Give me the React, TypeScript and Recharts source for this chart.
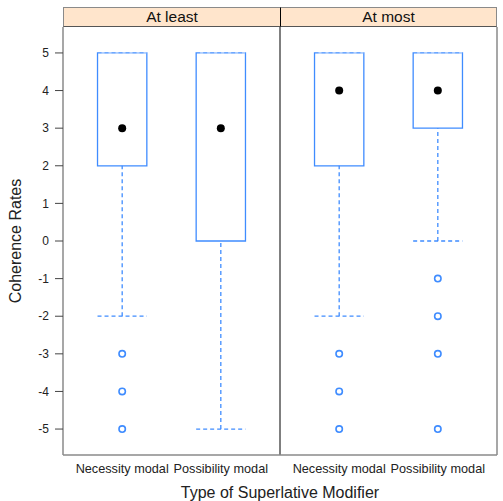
import React from "react";
import {
  ComposedChart,
  XAxis,
  YAxis,
  Scatter,
  ReferenceArea,
  ReferenceLine,
} from "recharts";

// ---- data ----
const panels = ["At least", "At most"];
const categories = ["Necessity modal", "Possibility modal"];
// per panel, per category: [lowerWhisker, q1, median, q3, upperWhisker]
const atLeastStats = [
  [-2, 2, 3, 5, 5],
  [-5, 0, 3, 5, 5],
];
const atMostStats = [
  [-2, 2, 4, 5, 5],
  [0, 3, 4, 5, 5],
];
const atLeastOutliers = [[-3, -4, -5], []];
const atMostOutliers = [[-3, -4, -5], [-1, -2, -3, -5]];
const yTicks = [-5, -4, -3, -2, -1, 0, 1, 2, 3, 4, 5];

const panelStats = [atLeastStats, atMostStats];
const panelOutliers = [atLeastOutliers, atMostOutliers];

// ---- layout (scale units) ----
const PANEL_SPAN = 2.2;
const BOX_HALF = 0.25;
const xPos = (p: number, c: number) => p * PANEL_SPAN + c + 1;

const BLUE = "#3f8cff";
const FONT = "'Liberation Sans', Arial, sans-serif";

type Box = { x: number; lo: number; q1: number; med: number; q3: number; hi: number };
const boxes: Box[] = [];
const medians: { x: number; y: number }[] = [];
const outliers: { x: number; y: number }[] = [];
panels.forEach((_, p) => {
  categories.forEach((_, c) => {
    const [lo, q1, med, q3, hi] = panelStats[p][c];
    const x = xPos(p, c);
    boxes.push({ x, lo, q1, med, q3, hi });
    medians.push({ x, y: med });
    panelOutliers[p][c].forEach((v) => outliers.push({ x, y: v }));
  });
});
const xTicks = boxes.map((b) => b.x);
const xLabel = (v: number) => {
  let best = 0;
  xTicks.forEach((t, i) => {
    if (Math.abs(t - v) < Math.abs(xTicks[best] - v)) best = i;
  });
  return categories[best % categories.length];
};

const W = 503;
const H = 501;
const PLOT_L = 63;
const PLOT_R = 497;
const PLOT_T = 27;
const PLOT_B = 455;
const STRIP_T = 7;

const MedianDot = (props: any) => (
  <circle cx={props.cx} cy={props.cy} r={4} fill="#000" />
);
const OutlierDot = (props: any) => (
  <circle cx={props.cx} cy={props.cy} r={3.2} fill="none" stroke={BLUE} strokeWidth={1.6} />
);

export default function App() {
  const panelW = (PLOT_R - PLOT_L) / panels.length;
  return (
    <div style={{ position: "absolute", left: 0, top: 0, width: W, height: H, background: "#fff", fontFamily: FONT }}>
      <ComposedChart
        width={W}
        height={H}
        margin={{ top: PLOT_T, right: 0, bottom: 0, left: 0 }}
        style={{ position: "absolute", left: 0, top: 0 }}
      >
        <XAxis
          type="number"
          dataKey="x"
          domain={[0.4, 0.4 + PANEL_SPAN * panels.length]}
          ticks={xTicks}
          tickFormatter={xLabel}
          interval={0}
          tickLine={false}
          axisLine={{ stroke: "#8a8a8a", strokeWidth: 1.5 }}
          tick={{ fill: "#222", fontSize: 12.7, fontFamily: FONT }}
          tickMargin={3}
          height={H - PLOT_B}
          allowDataOverflow
          label={{
            value: "Type of Superlative Modifier",
            position: "insideBottom",
            offset: 3,
            fill: "#222",
            fontSize: 16,
            fontFamily: FONT,
          }}
        />
        <YAxis
          yAxisId="l"
          type="number"
          domain={[-5.69, 5.69]}
          ticks={yTicks}
          interval={0}
          width={PLOT_L}
          tickSize={8}
          tickMargin={6}
          allowDataOverflow
          axisLine={{ stroke: "#8a8a8a", strokeWidth: 1.5 }}
          tickLine={{ stroke: "#444" }}
          tick={{ fill: "#222", fontSize: 12, fontFamily: FONT }}
          label={{
            value: "Coherence Rates",
            angle: -90,
            position: "insideLeft",
            offset: 15,
            style: { textAnchor: "middle" },
            fill: "#222",
            fontSize: 16,
            fontFamily: FONT,
          }}
        />
        <YAxis
          yAxisId="r"
          orientation="right"
          type="number"
          domain={[-5.69, 5.69]}
          ticks={yTicks}
          interval={0}
          width={W - PLOT_R}
          tickSize={7}
          allowDataOverflow
          axisLine={{ stroke: "#8a8a8a", strokeWidth: 1.5 }}
          tickLine={{ stroke: "#444" }}
          tick={false}
        />
        <ReferenceLine yAxisId="l" x={PANEL_SPAN + 0.4} stroke="#000" strokeWidth={1} />
        {boxes.map((b, i) => (
          <ReferenceArea
            key={"box" + i}
            yAxisId="l"
            x1={b.x - BOX_HALF}
            x2={b.x + BOX_HALF}
            y1={b.q1}
            y2={b.q3}
            fill="none"
            fillOpacity={0}
            stroke={BLUE}
            strokeWidth={1.3}
          />
        ))}
        {boxes.map((b, i) => (
          <ReferenceLine
            key={"wl" + i}
            yAxisId="l"
            segment={[{ x: b.x, y: b.lo }, { x: b.x, y: b.q1 }]}
            stroke={BLUE}
            strokeWidth={1.3}
            strokeDasharray="4 3"
          />
        ))}
        {boxes.map((b, i) => (
          <ReferenceLine
            key={"wh" + i}
            yAxisId="l"
            segment={[{ x: b.x, y: b.q3 }, { x: b.x, y: b.hi }]}
            stroke={BLUE}
            strokeWidth={1.3}
            strokeDasharray="4 3"
          />
        ))}
        {boxes.map((b, i) => (
          <ReferenceLine
            key={"cl" + i}
            yAxisId="l"
            segment={[{ x: b.x - BOX_HALF, y: b.lo }, { x: b.x + BOX_HALF, y: b.lo }]}
            stroke={BLUE}
            strokeWidth={1.3}
            strokeDasharray="4 3"
          />
        ))}
        {boxes.map((b, i) => (
          <ReferenceLine
            key={"ch" + i}
            yAxisId="l"
            segment={[{ x: b.x - BOX_HALF, y: b.hi }, { x: b.x + BOX_HALF, y: b.hi }]}
            stroke="#ffffff"
            strokeOpacity={0.6}
            strokeWidth={1.3}
            strokeDasharray="0 4 3 0"
          />
        ))}
        <Scatter yAxisId="l" data={outliers} dataKey="y" shape={OutlierDot} isAnimationActive={false} />
        <Scatter yAxisId="l" data={medians} dataKey="y" shape={MedianDot} isAnimationActive={false} />
      </ComposedChart>
      {panels.map((name, p) => (
        <div
          key={name}
          style={{
            position: "absolute",
            left: PLOT_L + p * panelW,
            top: STRIP_T,
            width: panelW,
            height: PLOT_T - STRIP_T,
            boxSizing: "border-box",
            background: "#ffe5cc",
            borderTop: "1.5px solid #8a8a8a",
            borderBottom: "1px solid #555",
            borderLeft: p === 0 ? "1.5px solid #8a8a8a" : "1px solid #000",
            borderRight: p === panels.length - 1 ? "1.5px solid #8a8a8a" : "none",
            textAlign: "center",
            fontSize: 15.5,
            lineHeight: `${PLOT_T - STRIP_T - 2}px`,
            color: "#111",
          }}
        >
          {name}
        </div>
      ))}
    </div>
  );
}
